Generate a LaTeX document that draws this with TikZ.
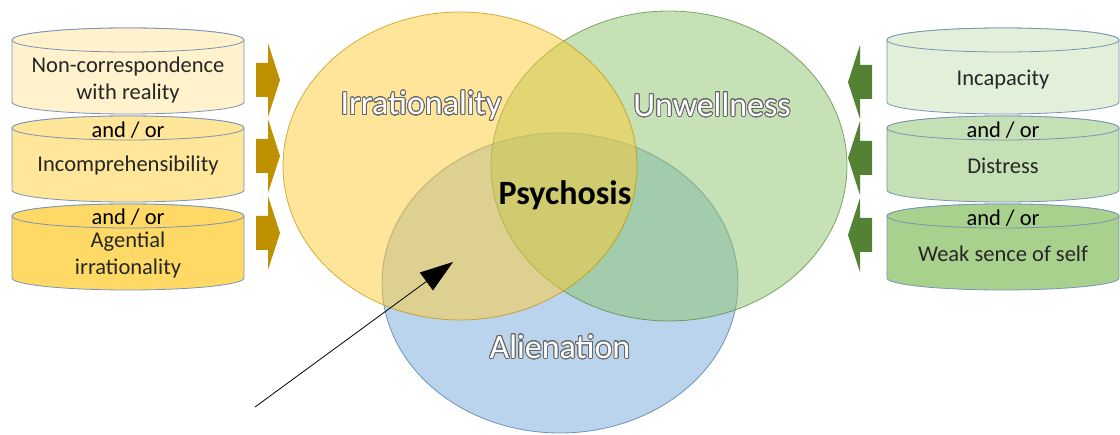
\documentclass[tikz,border=0pt]{standalone}
\usepackage{fontspec}
\setmainfont{Carlito}
\usepackage[copies]{contour}
\usetikzlibrary{arrows.meta}
\definecolor{vyellow}{HTML}{FFCC33}
\definecolor{vgreen}{HTML}{8BC46C}
\definecolor{vblue}{HTML}{78AADC}
\definecolor{lgold}{HTML}{BF9000}
\definecolor{lgreen}{HTML}{548235}
\definecolor{lblue}{HTML}{41719C}
\definecolor{drumedge}{HTML}{7A93B4}
\definecolor{txtgray}{HTML}{262626}
\definecolor{ya}{HTML}{FFF2CC}
\definecolor{yb}{HTML}{FFE699}
\definecolor{yc}{HTML}{FFD966}
\definecolor{ga}{HTML}{E2F0D9}
\definecolor{gb}{HTML}{C5E0B4}
\definecolor{gc}{HTML}{A9D18E}
\contourlength{0.8pt}
\contournumber{32}
\newcommand{\hollow}[1]{\contour{black!60}{\textcolor{white}{#1}}}
\newcommand{\drum}[3]{%
    \draw[drumline, fill=#3] (#1,#2+12) -- (#1,#2+74)
        arc[start angle=180, end angle=0, x radius=116, y radius=12]
        -- (#1+232,#2+12)
        arc[start angle=0, end angle=-180, x radius=116, y radius=12] -- cycle;
    \draw[drumline, fill=#3] (#1+116,#2+12) ellipse [x radius=116, y radius=12];
}
\newcommand{\block}[3]{%
    \fill[#3, shift={(#1,#2)}] (-24,-17) -- (-12,-17) -- (-12,-37) -- (0,0)
        -- (-12,37) -- (-12,17) -- (-24,17) -- cycle;
}
\tikzset{
    every node/.style={inner sep=0pt, align=center, text=txtgray,
        font=\fontsize{22.5}{26.5}\selectfont},
    drumline/.style={draw=drumedge, line width=.8pt},
    andor/.style={text=black},
    venn/.style={fill opacity=.5, draw opacity=.7, line width=.8pt},
    biglabel/.style={font=\fontsize{34}{38}\selectfont},
    flipped/.style={xscale=-1}
}
\begin{document}
\begin{tikzpicture}[x=1pt, y=-1pt]
    \useasboundingbox (0,0) rectangle (1120,435);

    \draw[venn, fill=vblue, draw=lblue] (560,283) ellipse [x radius=178, y radius=150];
    \draw[venn, fill=vgreen, draw=lgreen] (669,166) ellipse [x radius=178, y radius=155];
    \draw[venn, fill=vyellow, draw=lgold] (460,166) ellipse [x radius=177, y radius=154];

    \drum{12}{28}{ya}
    \drum{12}{116}{yb}
    \drum{12}{204}{yc}
    \drum{887}{28}{ga}
    \drum{887}{116}{gb}
    \drum{887}{204}{gc}

    \block{280}{80}{lgold}
    \block{280}{156}{lgold}
    \block{280}{233}{lgold}
    \begin{scope}[xshift=1128pt, flipped]
        \block{280}{82}{lgreen}
        \block{280}{158}{lgreen}
        \block{280}{235}{lgreen}
    \end{scope}

    \node (lt1) at (128,80) {Non-correspondence\\with reality};
    \node (lao1) [andor] at (128,130) {and / or};
    \node (lt2) at (128,166) {Incomprehensibility};
    \node (lao2) [andor] at (128,217) {and / or};
    \node (lt3) at (128,255) {Agential\\irrationality};

    \node (rt1) at (1003,80) {Incapacity};
    \node (rao1) [andor] at (1003,130) {and / or};
    \node (rt2) at (1003,166) {Distress};
    \node (rao2) [andor] at (1003,218) {and / or};
    \node (rt3) at (1003,254) {Weak sence of self};

    \node (irr) [biglabel] at (421,106) {\hollow{Irrationality}};
    \node (unw) [biglabel] at (712,105) {\hollow{Unwellness}};
    \node (ali) [biglabel] at (560,347) {\hollow{Alienation}};
    \node (psy) [biglabel, text=black] at (565,195) {\bfseries Psychosis};

    \coordinate (ptr0) at (255,407);
    \coordinate (ptr1) at (453,262);
    \draw[line width=.8pt, -{Triangle[length=33pt, width=22pt]}] (ptr0) -- (ptr1);
\end{tikzpicture}
\end{document}
